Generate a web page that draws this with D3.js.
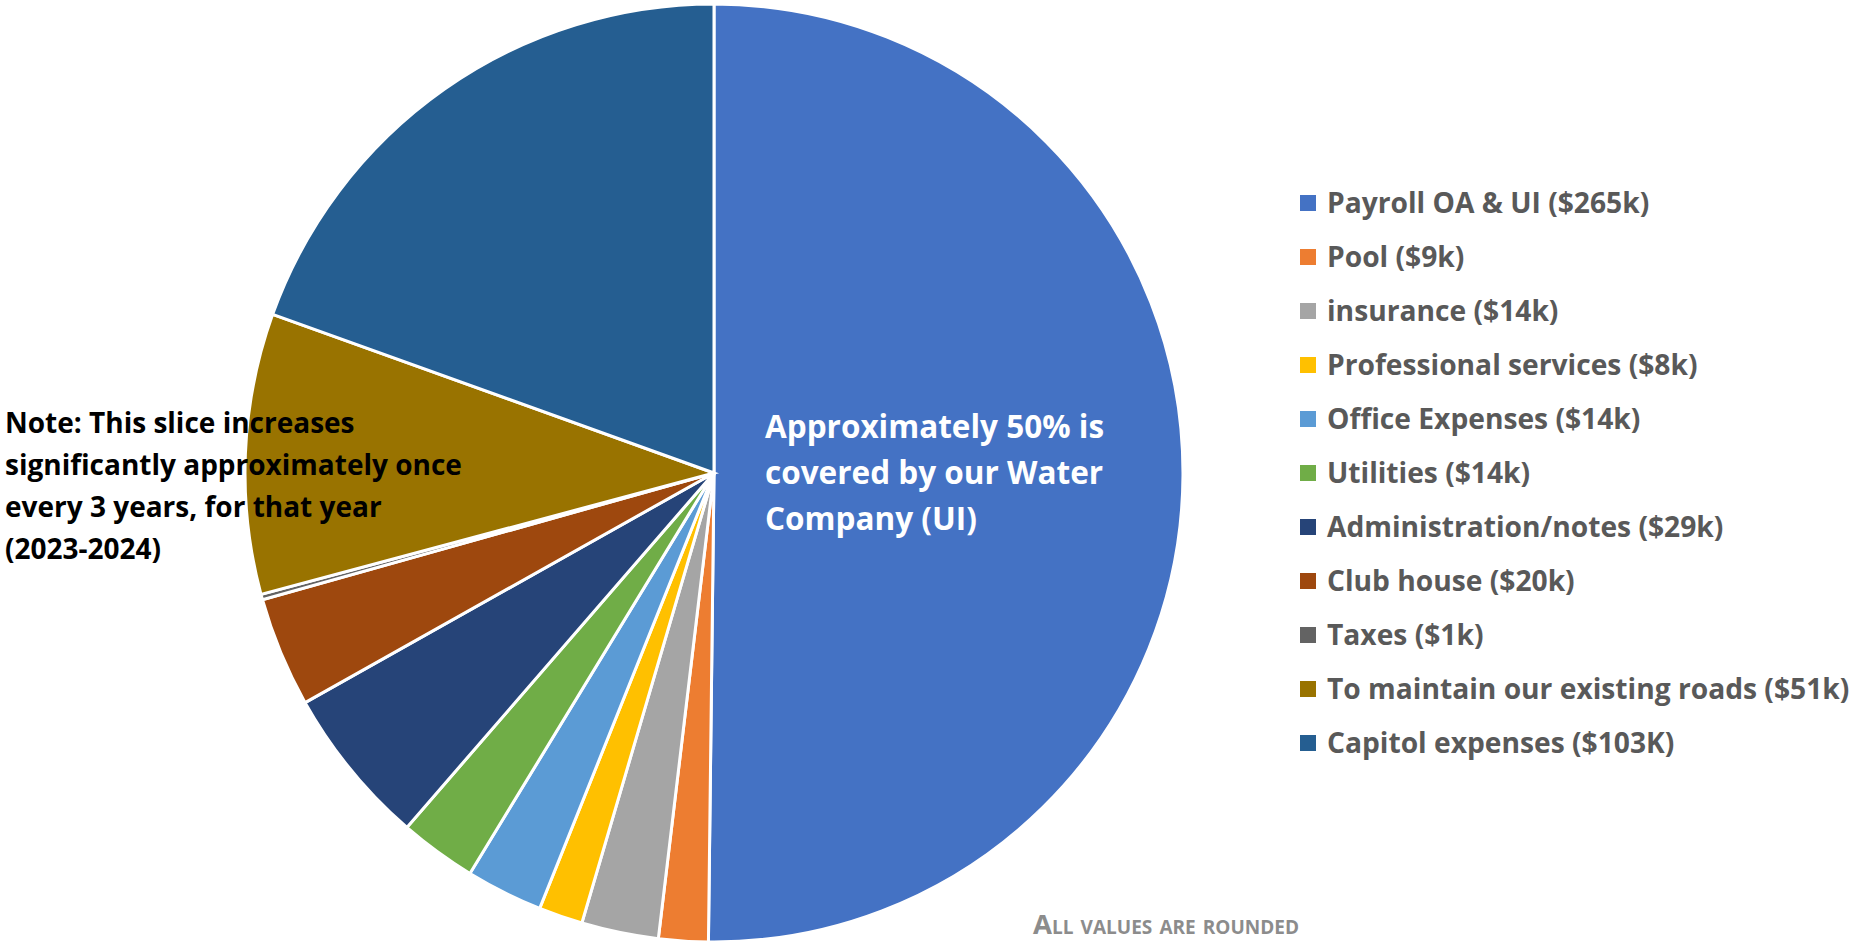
<html>
    <head>
        <title>Budget breakdown</title>
        <script type="text/javascript" src="https://cdn.jsdelivr.net/npm/d3@7"></script>
        <style type="text/css">
            body { margin: 0; background: #fff; }
            text { font-family: "Open Sans", Lato, sans-serif; font-weight: 700; }
        </style>
    </head>
    <body>
        <script type="text/javascript">

            var categories = ["Payroll OA & UI ($265k)", "Pool ($9k)", "insurance ($14k)",
                "Professional services ($8k)", "Office Expenses ($14k)", "Utilities ($14k)",
                "Administration/notes ($29k)", "Club house ($20k)", "Taxes ($1k)",
                "To maintain our existing roads ($51k)", "Capitol expenses ($103K)"];
            var values = [265, 9, 14, 8, 14, 14, 29, 20, 1, 51, 103];
            var colors = ["#4472C4", "#ED7D31", "#A5A5A5", "#FFC000", "#5B9BD5", "#70AD47",
                "#264478", "#9E480E", "#636363", "#997300", "#255E91"];
            var centerNote = ["Approximately 50% is", "covered by our Water", "Company (UI)"];
            var sideNote = ["Note: This slice increases", "significantly approximately once",
                "every 3 years, for that year", "(2023-2024)"];
            var footNote = "All values are rounded";

            function makeChart() {
                var width = 1853;
                var height = 943;
                var radius = 469;

                var svg = d3.select('body')
                    .append('svg')
                        .attr('width', width)
                        .attr('height', height);

                var data = values.map(function (v, i) {
                    return { name: categories[i], value: v, color: colors[i] };
                });

                var pie = d3.pie()
                    .sort(null)
                    .value(function (d) { return d.value; });

                var arc = d3.arc()
                    .innerRadius(0)
                    .outerRadius(radius);

                var canvas = svg.append('g')
                    .attr('transform', 'translate(714,473)');

                canvas.selectAll('path')
                    .data(pie(data))
                    .enter()
                    .append('path')
                        .attr('d', arc)
                        .style('fill', function (d) { return d.data.color; })
                        .style('stroke', '#fff')
                        .style('stroke-width', 3);

                // legend
                var legend = svg.append('g')
                    .attr('transform', 'translate(1300,203)');

                var rows = legend.selectAll('g')
                    .data(data)
                    .enter()
                    .append('g')
                        .attr('transform', function (d, i) { return 'translate(0,' + (i * 54) + ')'; });

                rows.append('rect')
                    .attr('x', 0)
                    .attr('y', -8)
                    .attr('width', 16)
                    .attr('height', 16)
                    .style('fill', function (d) { return d.color; });

                rows.append('text')
                    .attr('x', 27)
                    .attr('y', 10)
                    .style('font-size', '28.2px')
                    .style('fill', '#595959')
                    .text(function (d) { return d.name; });

                // note inside payroll slice
                svg.append('g').selectAll('text')
                    .data(centerNote)
                    .enter()
                    .append('text')
                        .attr('x', 765)
                        .attr('y', function (d, i) { return 438 + i * 46; })
                        .style('font-size', '31.5px')
                        .style('fill', '#fff')
                        .text(function (d) { return d; });

                // note over the roads slice
                svg.append('g').selectAll('text')
                    .data(sideNote)
                    .enter()
                    .append('text')
                        .attr('x', 5)
                        .attr('y', function (d, i) { return 433 + i * 42; })
                        .style('font-size', '28px')
                        .style('fill', '#000')
                        .text(function (d) { return d; });

                svg.append('text')
                    .attr('x', 1033)
                    .attr('y', 934)
                    .style('font-size', '27.5px')
                    .style('font-variant', 'small-caps')
                    .style('fill', '#8c8c8c')
                    .text(footNote);
            }

            makeChart();

        </script>
    </body>
</html>
